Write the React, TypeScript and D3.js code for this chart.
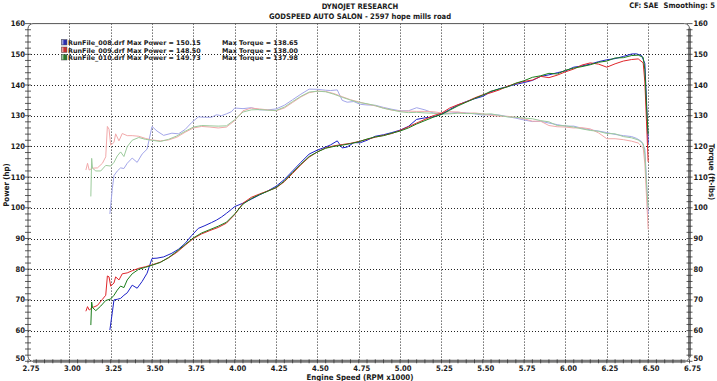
import React from "react";
import * as d3 from "d3";

// ---------- data ----------
const xTicks = [2.75, 3.0, 3.25, 3.5, 3.75, 4.0, 4.25, 4.5, 4.75, 5.0, 5.25, 5.5, 5.75, 6.0, 6.25, 6.5, 6.75];
const yTicks = [50, 60, 70, 80, 90, 100, 110, 120, 130, 140, 150, 160];

const runNames = ["RunFile_008.drf", "RunFile_009.drf", "RunFile_010.drf"];
const maxPower = ["150.15", "148.50", "149.73"];
const maxTorque = ["138.65", "138.00", "137.98"];

const rpm008 = [3.245, 3.26, 3.27, 3.29, 3.31, 3.33, 3.35, 3.38, 3.41, 3.44, 3.47, 3.5, 3.53, 3.57, 3.62, 3.66, 3.7, 3.74, 3.78, 3.82, 3.86, 3.89, 3.92, 3.95, 3.98, 4.0, 4.05, 4.1, 4.15, 4.2, 4.25, 4.3, 4.35, 4.4, 4.45, 4.5, 4.55, 4.58, 4.62, 4.65, 4.68, 4.72, 4.76, 4.8, 4.85, 4.9, 4.95, 5.0, 5.05, 5.1, 5.15, 5.2, 5.25, 5.3, 5.35, 5.4, 5.45, 5.5, 5.55, 5.6, 5.65, 5.7, 5.75, 5.8, 5.85, 5.9, 5.95, 6.0, 6.05, 6.1, 6.15, 6.2, 6.25, 6.3, 6.35, 6.4, 6.43, 6.46, 6.48, 6.49, 6.5];
const power008 = [60.2, 66, 70, 70.2, 70.5, 71.5, 72.3, 74.8, 73.8, 76, 78.7, 83.5, 83.6, 84, 85.2, 86.5, 88.4, 91, 93.3, 94.2, 95.2, 96, 97, 98.2, 99.5, 100.4, 101.5, 102.8, 104.2, 105.5, 107, 109.2, 112, 114.8, 117.5, 118.8, 119.8, 120.5, 121.8, 119.5, 119.8, 121.2, 121.2, 122, 123.3, 123.8, 124.5, 125.3, 126.5, 128.8, 129.3, 129.6, 130.5, 132, 133.5, 134.6, 135.5, 136.3, 137.8, 138.8, 139.5, 140.2, 140.8, 141.5, 142.8, 143.3, 144, 144.6, 145.8, 146.2, 146.8, 147.6, 148.2, 148.6, 149.3, 150.1, 150.15, 149.6, 147, 135, 121];
const torque008 = [98, 106.3, 110.5, 112, 113, 112.8, 114.5, 116.2, 114.8, 117.5, 119.1, 126.5, 125, 123.6, 124.3, 124.1, 125.5, 127.8, 129.6, 129.5, 129.5, 130.3, 130, 130.6, 131.3, 132.5, 132.3, 132.6, 131.9, 131.9, 132.2, 133.4, 135.2, 137, 138.65, 138.6, 138.3, 138.2, 138.4, 135, 134.4, 134.6, 133.7, 133.5, 133.4, 132.7, 132.1, 131.6, 131.6, 132.6, 131.9, 130.9, 130.6, 130.8, 131.1, 130.9, 130.6, 130.2, 130.4, 130.2, 129.7, 129.2, 128.6, 128.1, 128.2, 127.6, 127.1, 126.6, 126.6, 125.9, 125.4, 125, 124.5, 123.9, 123.5, 123.2, 122.6, 121.6, 119.1, 109.2, 98];

const rpm009 = [3.1, 3.11, 3.12, 3.14, 3.17, 3.2, 3.22, 3.23, 3.24, 3.25, 3.27, 3.28, 3.3, 3.32, 3.35, 3.38, 3.42, 3.46, 3.5, 3.55, 3.6, 3.65, 3.7, 3.75, 3.8, 3.85, 3.9, 3.95, 4.0, 4.05, 4.1, 4.15, 4.2, 4.25, 4.3, 4.35, 4.4, 4.45, 4.5, 4.55, 4.6, 4.65, 4.7, 4.75, 4.8, 4.85, 4.9, 4.95, 5.0, 5.05, 5.1, 5.15, 5.2, 5.25, 5.3, 5.35, 5.4, 5.45, 5.5, 5.55, 5.6, 5.65, 5.7, 5.75, 5.8, 5.85, 5.9, 5.95, 6.0, 6.05, 6.1, 6.15, 6.2, 6.25, 6.3, 6.35, 6.4, 6.44, 6.47, 6.48, 6.49, 6.5];
const power009 = [66.3, 67.8, 66.7, 67.5, 68.2, 70.2, 71.5, 77.8, 77.5, 74.5, 75.5, 77.5, 76.5, 78.5, 78.8, 79.5, 80.3, 80.8, 81.4, 82.3, 83.7, 85.5, 87.8, 90, 91.5, 92.6, 93.6, 95, 97.8, 101.5, 103.4, 104.5, 105.5, 106.5, 108.5, 111.2, 114, 116.5, 118.2, 119.5, 120.2, 120.6, 121, 121.6, 122.3, 123, 123.6, 124.2, 125.2, 126.4, 127.6, 128.8, 130, 130.8, 132.5, 133.6, 134.5, 135.8, 136.8, 137.5, 138.4, 139.6, 140.5, 141.2, 141.6, 142.8, 142.4, 143.2, 144.3, 145.2, 146.5, 147.2, 146.8, 145.8, 146.9, 147.8, 148.3, 148.5, 147.2, 141, 128, 115];
const torque009 = [112.3, 114.5, 112.3, 112.9, 113, 114.5, 116.6, 126.5, 125.6, 120.4, 121.3, 124.1, 121.8, 124.2, 123.5, 123.5, 123.3, 122.6, 122.1, 121.8, 122.1, 123, 124.6, 126, 126.5, 126.3, 126, 126.3, 128.4, 131.6, 132.5, 132.2, 131.9, 131.6, 132.5, 134.3, 136.1, 137.5, 138, 137.9, 137.2, 136.2, 135.2, 134.5, 133.8, 133.2, 132.5, 131.8, 131.5, 131.5, 131.4, 131.4, 131.3, 130.9, 131.3, 131.2, 130.8, 130.9, 130.6, 130.1, 129.8, 129.8, 129.5, 129, 128.2, 128.2, 126.8, 126.4, 126.3, 126, 126.1, 125.7, 124.4, 122.5, 122.5, 122.2, 121.7, 121.1, 119.5, 114.3, 103.6, 93];

const rpm010 = [3.13, 3.135, 3.14, 3.16, 3.19, 3.22, 3.25, 3.27, 3.29, 3.31, 3.33, 3.35, 3.38, 3.42, 3.46, 3.5, 3.55, 3.6, 3.65, 3.7, 3.75, 3.8, 3.85, 3.9, 3.95, 4.0, 4.05, 4.1, 4.15, 4.2, 4.25, 4.3, 4.35, 4.4, 4.45, 4.5, 4.55, 4.6, 4.65, 4.7, 4.75, 4.8, 4.85, 4.9, 4.95, 5.0, 5.05, 5.1, 5.15, 5.2, 5.25, 5.3, 5.35, 5.4, 5.45, 5.5, 5.55, 5.6, 5.65, 5.7, 5.75, 5.8, 5.85, 5.9, 5.95, 6.0, 6.05, 6.1, 6.15, 6.2, 6.25, 6.3, 6.35, 6.4, 6.44, 6.47, 6.48, 6.49, 6.5];
const power010 = [61.8, 69.3, 67.5, 66.5, 68, 69.8, 70.3, 71.5, 73.2, 74.5, 74, 76.5, 78.5, 80, 80.6, 81.3, 82.2, 83.8, 85.8, 88, 90.2, 91.8, 92.9, 94, 95.3, 98, 101.2, 103, 104.3, 105.4, 106.6, 108.7, 111.5, 114.2, 116.7, 118.2, 119.4, 120, 120.4, 120.9, 121.5, 122.4, 123.1, 123.5, 124.3, 125, 126, 127.3, 128.4, 129.5, 130.4, 131.8, 133.2, 134.4, 135.6, 136.7, 138, 138.7, 139.4, 140.6, 141.4, 142.5, 143, 143.8, 143.6, 144.8, 145.5, 146, 146.6, 147.4, 147.8, 148.8, 148.9, 149.6, 149.73, 149, 145, 133, 124];
const torque010 = [103.7, 116.1, 112.9, 112, 112, 113.8, 113.6, 114.8, 116.9, 118.2, 116.7, 119.9, 122, 122.9, 122.3, 122, 121.6, 122.3, 123.4, 124.9, 126.3, 126.8, 126.7, 126.6, 126.7, 128.7, 131.2, 131.9, 132, 131.8, 131.7, 132.8, 134.6, 136.3, 137.7, 137.98, 137.8, 137, 136, 135.1, 134.3, 133.9, 133.3, 132.4, 131.9, 131.3, 131, 131.1, 130.9, 130.8, 130.5, 130.6, 130.8, 130.7, 130.7, 130.5, 130.6, 130.1, 129.6, 129.5, 129.2, 129, 128.4, 128, 126.8, 126.7, 126.3, 125.7, 125.2, 124.9, 124.2, 124.1, 123.2, 122.8, 122.1, 120.9, 117.5, 107.6, 100.2];

// ---------- styles ----------
const W = 717;
const H = 381;
const X0 = 28;
const X1 = 689.5;
const Y0 = 361.3;
const Y1 = 23.6;
const FONT = "'DejaVu Sans Condensed', 'DejaVu Sans', sans-serif";
const LFONT = "'DejaVu Sans', sans-serif";
const TXT = "#1a1a1a";

const powerColors = ["#1d22c8", "#e0262a", "#1a7d1a"];
const torqueColors = ["#a3a6ea", "#f2a9aa", "#9ccb9c"];
const swatchColors = ["#2b2fb0", "#c83232", "#2a7a2a"];

export default function App() {
  const x = d3.scaleLinear().domain([2.75, 6.75]).range([X0, X1]);
  const y = d3.scaleLinear().domain([50, 160]).range([Y0, Y1]);

  const series = [
    { rpm: rpm008, p: power008, t: torque008 },
    { rpm: rpm009, p: power009, t: torque009 },
    { rpm: rpm010, p: power010, t: torque010 },
  ];

  const mk = (rpm: number[], vals: number[]) =>
    d3
      .line<number>()
      .x((_, i) => x(rpm[i]))
      .y((v) => y(v))(vals) || "";

  const minorY = d3.range(50, 160.001, 2);
  const minorX = d3.range(2.75, 6.7501, 0.05);

  return (
    <svg width={W} height={H} style={{ display: "block", position: "absolute", left: 0, top: 0, background: "#fff" }}>
      <rect x={0} y={0} width={W} height={H} fill="#fff" />
      {/* titles */}
      <text x={360} y={9} textAnchor="middle" fontFamily={FONT} fontSize={7.6} fontWeight="bold" fill={TXT}>
        DYNOJET RESEARCH
      </text>
      <text x={360} y={18.5} textAnchor="middle" fontFamily={FONT} fontSize={7.6} fontWeight="bold" fill={TXT}>
        GODSPEED AUTO SALON - 2597 hope mills road
      </text>
      <text x={715} y={8} textAnchor="end" fontFamily={FONT} fontSize={7.6} fontWeight="bold" fill={TXT}>
        <tspan>CF: SAE</tspan>
        <tspan dx={5}>Smoothing: 5</tspan>
      </text>

      {/* gridlines */}
      {yTicks.slice(1, -1).map((v) => (
        <line key={"gy" + v} x1={X0} x2={X1} y1={Math.round(y(v)) + 0.5} y2={Math.round(y(v)) + 0.5} stroke="#222" strokeWidth={1} strokeDasharray="1,2" />
      ))}
      {xTicks.slice(1, -1).map((v) => (
        <line key={"gx" + v} y1={Y1} y2={Y0} x1={Math.round(x(v)) + 0.5} x2={Math.round(x(v)) + 0.5} stroke="#222" strokeWidth={1} strokeDasharray="1,2" />
      ))}

      {/* frame */}
      <rect x={X0} y={Y1} width={X1 - X0} height={Y0 - Y1} rx={5} ry={5} fill="none" stroke="#555" strokeWidth={1} />
      <line x1={X1} x2={X1} y1={Y1 + 5} y2={Y0 - 4} stroke="#7a7a7a" strokeWidth={3} />
      <line x1={X0 + 5} x2={X1 - 4} y1={Y0} y2={Y0} stroke="#7a7a7a" strokeWidth={3} />

      {/* minor ticks */}
      {minorY.map((v) => (
        <g key={"my" + v}>
          <line x1={X0 - 3} x2={X0 + 3} y1={y(v)} y2={y(v)} stroke="#333" strokeWidth={0.8} />
          <line x1={X1 - 3} x2={X1 + 3} y1={y(v)} y2={y(v)} stroke="#333" strokeWidth={0.8} />
        </g>
      ))}
      {minorX.map((v) => (
        <line key={"mx" + v.toFixed(2)} x1={x(v)} x2={x(v)} y1={Y0 - 2} y2={Y0 + 2} stroke="#333" strokeWidth={0.8} />
      ))}

      {/* tick labels */}
      {yTicks.map((v) => {
        const ly = y(v) + (v === 50 ? 0 : 2.5);
        return (
          <g key={"yl" + v}>
            <text x={X0 - 3} y={ly} textAnchor="end" fontFamily={FONT} fontSize={7.6} fontWeight="bold" fill={TXT}>
              {v}
            </text>
            <text x={X1 + 4} y={ly} textAnchor="start" fontFamily={FONT} fontSize={7.6} fontWeight="bold" fill={TXT}>
              {v}
            </text>
          </g>
        );
      })}
      {xTicks.map((v) => (
        <text key={"xl" + v} x={x(v) + 3} y={371} textAnchor="middle" fontFamily={FONT} fontSize={7.6} fontWeight="bold" fill={TXT}>
          {v.toFixed(2)}
        </text>
      ))}

      {/* axis titles */}
      <text x={360} y={379.5} textAnchor="middle" fontFamily={FONT} fontSize={7.8} fontWeight="bold" fill={TXT}>
        Engine Speed (RPM x1000)
      </text>
      <text transform="translate(9,185) rotate(-90)" textAnchor="middle" fontFamily={FONT} fontSize={7.8} fontWeight="bold" fill={TXT}>
        Power (hp)
      </text>
      <text transform="translate(709,172) rotate(90)" textAnchor="middle" fontFamily={FONT} fontSize={7.8} fontWeight="bold" fill={TXT}>
        Torque (ft-lbs)
      </text>

      {/* curves: torque (pale) first, then power */}
      {series.map((s, i) => (
        <path key={"t" + i} d={mk(s.rpm, s.t)} fill="none" stroke={torqueColors[i]} strokeWidth={1} />
      ))}
      {series.map((s, i) => (
        <path key={"p" + i} d={mk(s.rpm, s.p)} fill="none" stroke={powerColors[i]} strokeWidth={1} />
      ))}

      {/* legend */}
      {runNames.map((n, i) => {
        const yy = 45 + i * 7.5;
        return (
          <g key={"lg" + i}>
            <rect x={61.5} y={yy - 5.5} width={5.5} height={5.5} fill={swatchColors[i]} stroke="#555" strokeWidth={0.5} />
            <line x1={62.8} x2={62.8} y1={yy - 5} y2={yy - 0.5} stroke="#fff" strokeWidth={1} opacity={0.8} />
            <text x={68} y={yy} fontFamily={LFONT} fontSize={6.4} fontWeight="bold" fill={TXT}>
              {n} Max Power = {maxPower[i]}
            </text>
            <text x={222} y={yy} fontFamily={LFONT} fontSize={6.4} fontWeight="bold" fill={TXT}>
              Max Torque = {maxTorque[i]}
            </text>
          </g>
        );
      })}
    </svg>
  );
}
